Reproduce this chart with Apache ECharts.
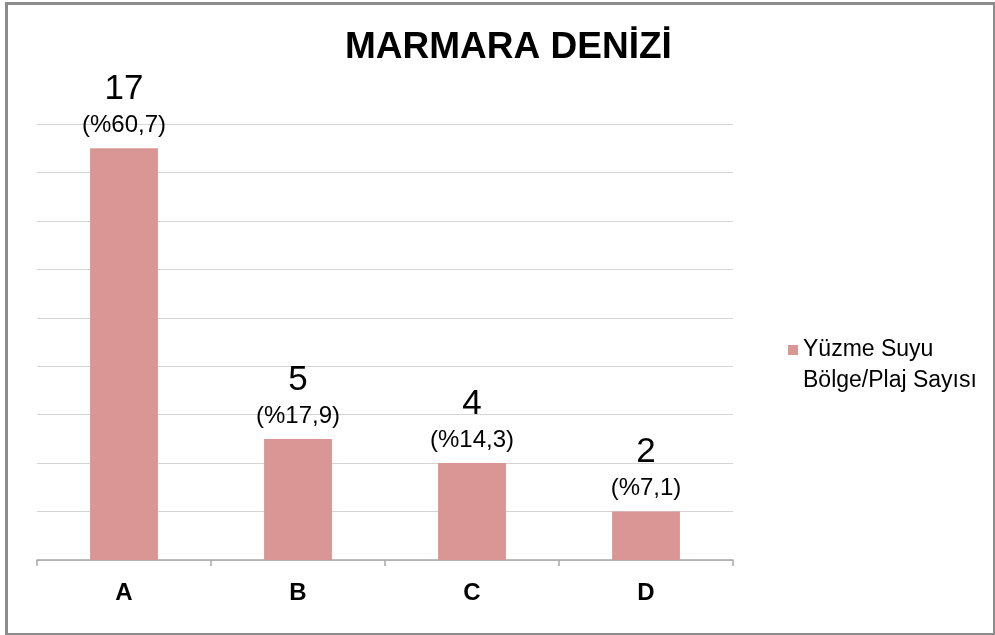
<!DOCTYPE html>
<html><head><meta charset="utf-8">
<script src="https://cdn.jsdelivr.net/npm/echarts@6/dist/echarts.min.js"></script>
<style>html,body{margin:0;padding:0;background:#fff}#c{width:995px;height:635px}</style>
</head><body><div id="c"></div>
<script>
const categories = ['A', 'B', 'C', 'D'];
const counts = [17, 5, 4, 2];
const percents = ['60,7', '17,9', '14,3', '7,1'];
const seriesName = 'Yüzme Suyu\nBölge/Plaj Sayısı';
const titleText = 'MARMARA DENİZİ';

const chart = echarts.init(document.getElementById('c'));
chart.setOption({
  animation: false,
  backgroundColor: '#fff',
  graphic: [{
    type: 'rect', left: 4, top: 1,
    shape: { width: 988, height: 631 },
    style: { fill: 'none', stroke: '#8c8c8c', lineWidth: 3 }
  }],
  title: {
    text: titleText, left: 340, top: 24,
    textStyle: { fontFamily: 'Liberation Sans, Arial', fontWeight: 'bold', fontSize: 37, color: '#000' }
  },
  legend: {
    orient: 'vertical', left: 783, top: 309,
    itemWidth: 10, itemHeight: 10, itemGap: 0,
    icon: 'rect',
    formatter: name => {
      const parts = name.split('\n');
      return '{s| }\n' + parts.map(t => '{t|' + t + '}').join('\n');
    },
    textStyle: {
      fontFamily: 'Liberation Sans, Arial', fontSize: 23, color: '#000',
      rich: {
        s: { fontSize: 10, lineHeight: 31 },
        t: { fontFamily: 'Liberation Sans, Arial', fontSize: 23, lineHeight: 31, color: '#000' }
      }
    },
    data: [seriesName]
  },
  grid: { left: 37, right: 262, top: 124, bottom: 75 },
  xAxis: {
    type: 'category', data: categories,
    axisLine: { lineStyle: { color: '#a6a6a6', width: 1.5 } },
    axisTick: { show: true, length: 6, lineStyle: { color: '#a6a6a6', width: 1.5 } },
    axisLabel: { fontFamily: 'Liberation Sans, Arial', fontWeight: 'bold', fontSize: 24, color: '#000', margin: 21 }
  },
  yAxis: {
    type: 'value', min: 0, max: 18, interval: 2,
    axisLabel: { show: false }, axisLine: { show: false }, axisTick: { show: false },
    splitLine: { lineStyle: { color: '#d4d4d4', width: 1 } }
  },
  series: [{
    name: seriesName, type: 'bar', data: counts, barWidth: '39%',
    itemStyle: { color: '#d99694' },
    label: {
      show: true, position: 'top', distance: 9,
      formatter: p => '{v|' + counts[p.dataIndex] + '}\n{p|(%' + percents[p.dataIndex] + ')}',
      rich: {
        v: { fontFamily: 'Liberation Sans, Arial', fontSize: 35, lineHeight: 44, color: '#000', align: 'center' },
        p: { fontFamily: 'Liberation Sans, Arial', fontSize: 24, lineHeight: 28, color: '#000', align: 'center' }
      }
    }
  }]
});
</script></body></html>
